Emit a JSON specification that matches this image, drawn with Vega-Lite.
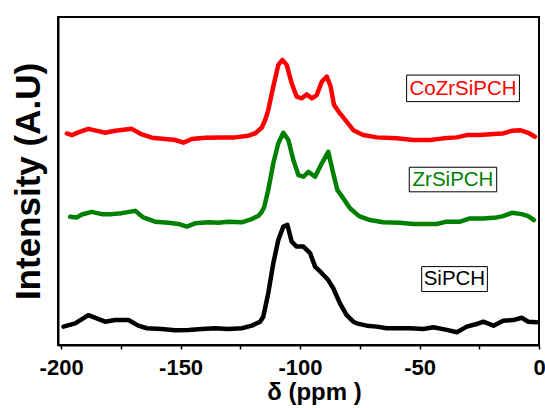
{
  "$schema": "https://vega.github.io/schema/vega-lite/v6.json",
  "autosize": {"type": "none"},
  "width": 481,
  "height": 328,
  "padding": {"left": 58, "top": 17, "right": 6, "bottom": 63},
  "background": "white",
  "config": {
    "font": "Liberation Sans",
    "view": {"stroke": "black", "strokeWidth": 2}
  },
  "datasets": {
    "spectra": [
      {"sample": "CoZrSiPCH", "ppm": -197.6, "intensity": 64.5},
      {"sample": "CoZrSiPCH", "ppm": -195.5, "intensity": 64.0},
      {"sample": "CoZrSiPCH", "ppm": -192.8, "intensity": 64.8},
      {"sample": "CoZrSiPCH", "ppm": -188.6, "intensity": 65.9},
      {"sample": "CoZrSiPCH", "ppm": -184.4, "intensity": 65.2},
      {"sample": "CoZrSiPCH", "ppm": -181.6, "intensity": 64.7},
      {"sample": "CoZrSiPCH", "ppm": -177.4, "intensity": 65.3},
      {"sample": "CoZrSiPCH", "ppm": -170.4, "intensity": 65.9},
      {"sample": "CoZrSiPCH", "ppm": -166.2, "intensity": 64.2},
      {"sample": "CoZrSiPCH", "ppm": -162.0, "intensity": 63.2},
      {"sample": "CoZrSiPCH", "ppm": -156.5, "intensity": 62.8},
      {"sample": "CoZrSiPCH", "ppm": -152.3, "intensity": 62.5},
      {"sample": "CoZrSiPCH", "ppm": -148.8, "intensity": 61.7},
      {"sample": "CoZrSiPCH", "ppm": -145.3, "intensity": 62.8},
      {"sample": "CoZrSiPCH", "ppm": -139.7, "intensity": 63.2},
      {"sample": "CoZrSiPCH", "ppm": -132.8, "intensity": 63.3},
      {"sample": "CoZrSiPCH", "ppm": -127.2, "intensity": 63.3},
      {"sample": "CoZrSiPCH", "ppm": -121.6, "intensity": 63.8},
      {"sample": "CoZrSiPCH", "ppm": -118.8, "intensity": 64.5},
      {"sample": "CoZrSiPCH", "ppm": -116.0, "intensity": 66.3},
      {"sample": "CoZrSiPCH", "ppm": -114.6, "intensity": 68.6},
      {"sample": "CoZrSiPCH", "ppm": -113.3, "intensity": 71.6},
      {"sample": "CoZrSiPCH", "ppm": -111.2, "intensity": 78.8},
      {"sample": "CoZrSiPCH", "ppm": -109.1, "intensity": 85.4},
      {"sample": "CoZrSiPCH", "ppm": -107.4, "intensity": 86.9},
      {"sample": "CoZrSiPCH", "ppm": -105.6, "intensity": 85.4},
      {"sample": "CoZrSiPCH", "ppm": -103.5, "intensity": 79.8},
      {"sample": "CoZrSiPCH", "ppm": -101.4, "intensity": 75.7},
      {"sample": "CoZrSiPCH", "ppm": -99.3, "intensity": 75.2},
      {"sample": "CoZrSiPCH", "ppm": -97.2, "intensity": 76.4},
      {"sample": "CoZrSiPCH", "ppm": -95.1, "intensity": 75.2},
      {"sample": "CoZrSiPCH", "ppm": -93.0, "intensity": 76.2},
      {"sample": "CoZrSiPCH", "ppm": -90.9, "intensity": 80.3},
      {"sample": "CoZrSiPCH", "ppm": -88.8, "intensity": 81.8},
      {"sample": "CoZrSiPCH", "ppm": -87.2, "intensity": 78.8},
      {"sample": "CoZrSiPCH", "ppm": -85.8, "intensity": 73.2},
      {"sample": "CoZrSiPCH", "ppm": -83.3, "intensity": 70.6},
      {"sample": "CoZrSiPCH", "ppm": -80.5, "intensity": 68.1},
      {"sample": "CoZrSiPCH", "ppm": -77.7, "intensity": 65.5},
      {"sample": "CoZrSiPCH", "ppm": -74.9, "intensity": 64.5},
      {"sample": "CoZrSiPCH", "ppm": -73.5, "intensity": 64.0},
      {"sample": "CoZrSiPCH", "ppm": -67.9, "intensity": 63.3},
      {"sample": "CoZrSiPCH", "ppm": -59.5, "intensity": 63.0},
      {"sample": "CoZrSiPCH", "ppm": -52.6, "intensity": 62.5},
      {"sample": "CoZrSiPCH", "ppm": -45.6, "intensity": 62.5},
      {"sample": "CoZrSiPCH", "ppm": -40.0, "intensity": 63.0},
      {"sample": "CoZrSiPCH", "ppm": -34.4, "intensity": 63.3},
      {"sample": "CoZrSiPCH", "ppm": -30.2, "intensity": 64.0},
      {"sample": "CoZrSiPCH", "ppm": -24.7, "intensity": 64.0},
      {"sample": "CoZrSiPCH", "ppm": -19.1, "intensity": 64.3},
      {"sample": "CoZrSiPCH", "ppm": -15.0, "intensity": 64.5},
      {"sample": "CoZrSiPCH", "ppm": -11.4, "intensity": 65.3},
      {"sample": "CoZrSiPCH", "ppm": -8.0, "intensity": 65.5},
      {"sample": "CoZrSiPCH", "ppm": -4.5, "intensity": 64.7},
      {"sample": "CoZrSiPCH", "ppm": -1.7, "intensity": 63.5},

      {"sample": "ZrSiPCH", "ppm": -196.2, "intensity": 39.1},
      {"sample": "ZrSiPCH", "ppm": -193.4, "intensity": 38.9},
      {"sample": "ZrSiPCH", "ppm": -191.3, "intensity": 39.8},
      {"sample": "ZrSiPCH", "ppm": -187.2, "intensity": 40.6},
      {"sample": "ZrSiPCH", "ppm": -183.0, "intensity": 39.9},
      {"sample": "ZrSiPCH", "ppm": -178.8, "intensity": 39.9},
      {"sample": "ZrSiPCH", "ppm": -174.6, "intensity": 40.2},
      {"sample": "ZrSiPCH", "ppm": -169.0, "intensity": 40.9},
      {"sample": "ZrSiPCH", "ppm": -165.6, "intensity": 38.9},
      {"sample": "ZrSiPCH", "ppm": -160.7, "intensity": 37.6},
      {"sample": "ZrSiPCH", "ppm": -155.1, "intensity": 37.3},
      {"sample": "ZrSiPCH", "ppm": -150.9, "intensity": 36.9},
      {"sample": "ZrSiPCH", "ppm": -147.4, "intensity": 36.1},
      {"sample": "ZrSiPCH", "ppm": -143.9, "intensity": 37.1},
      {"sample": "ZrSiPCH", "ppm": -138.4, "intensity": 37.4},
      {"sample": "ZrSiPCH", "ppm": -134.2, "intensity": 37.3},
      {"sample": "ZrSiPCH", "ppm": -130.0, "intensity": 37.6},
      {"sample": "ZrSiPCH", "ppm": -124.4, "intensity": 37.4},
      {"sample": "ZrSiPCH", "ppm": -120.2, "intensity": 38.4},
      {"sample": "ZrSiPCH", "ppm": -117.4, "intensity": 39.4},
      {"sample": "ZrSiPCH", "ppm": -116.0, "intensity": 40.6},
      {"sample": "ZrSiPCH", "ppm": -115.0, "intensity": 42.1},
      {"sample": "ZrSiPCH", "ppm": -113.3, "intensity": 47.3},
      {"sample": "ZrSiPCH", "ppm": -111.2, "intensity": 55.4},
      {"sample": "ZrSiPCH", "ppm": -109.1, "intensity": 61.5},
      {"sample": "ZrSiPCH", "ppm": -107.0, "intensity": 64.7},
      {"sample": "ZrSiPCH", "ppm": -104.9, "intensity": 62.5},
      {"sample": "ZrSiPCH", "ppm": -102.8, "intensity": 56.4},
      {"sample": "ZrSiPCH", "ppm": -100.7, "intensity": 51.8},
      {"sample": "ZrSiPCH", "ppm": -98.6, "intensity": 51.3},
      {"sample": "ZrSiPCH", "ppm": -96.5, "intensity": 52.8},
      {"sample": "ZrSiPCH", "ppm": -93.7, "intensity": 51.3},
      {"sample": "ZrSiPCH", "ppm": -90.9, "intensity": 55.4},
      {"sample": "ZrSiPCH", "ppm": -88.2, "intensity": 58.9},
      {"sample": "ZrSiPCH", "ppm": -86.1, "intensity": 52.3},
      {"sample": "ZrSiPCH", "ppm": -84.4, "intensity": 47.3},
      {"sample": "ZrSiPCH", "ppm": -81.9, "intensity": 44.7},
      {"sample": "ZrSiPCH", "ppm": -79.1, "intensity": 41.7},
      {"sample": "ZrSiPCH", "ppm": -75.3, "intensity": 39.3},
      {"sample": "ZrSiPCH", "ppm": -70.7, "intensity": 38.1},
      {"sample": "ZrSiPCH", "ppm": -65.2, "intensity": 37.4},
      {"sample": "ZrSiPCH", "ppm": -58.2, "intensity": 37.3},
      {"sample": "ZrSiPCH", "ppm": -52.6, "intensity": 36.9},
      {"sample": "ZrSiPCH", "ppm": -47.0, "intensity": 36.9},
      {"sample": "ZrSiPCH", "ppm": -42.8, "intensity": 36.9},
      {"sample": "ZrSiPCH", "ppm": -38.6, "intensity": 37.6},
      {"sample": "ZrSiPCH", "ppm": -33.0, "intensity": 37.6},
      {"sample": "ZrSiPCH", "ppm": -28.9, "intensity": 38.6},
      {"sample": "ZrSiPCH", "ppm": -23.3, "intensity": 38.6},
      {"sample": "ZrSiPCH", "ppm": -17.7, "intensity": 38.9},
      {"sample": "ZrSiPCH", "ppm": -15.0, "intensity": 39.3},
      {"sample": "ZrSiPCH", "ppm": -11.4, "intensity": 40.3},
      {"sample": "ZrSiPCH", "ppm": -7.2, "intensity": 39.9},
      {"sample": "ZrSiPCH", "ppm": -4.5, "intensity": 39.3},
      {"sample": "ZrSiPCH", "ppm": -2.1, "intensity": 38.1},

      {"sample": "SiPCH", "ppm": -199.0, "intensity": 5.6},
      {"sample": "SiPCH", "ppm": -194.1, "intensity": 6.6},
      {"sample": "SiPCH", "ppm": -188.6, "intensity": 9.1},
      {"sample": "SiPCH", "ppm": -185.1, "intensity": 8.1},
      {"sample": "SiPCH", "ppm": -181.6, "intensity": 7.1},
      {"sample": "SiPCH", "ppm": -177.4, "intensity": 7.6},
      {"sample": "SiPCH", "ppm": -171.8, "intensity": 7.6},
      {"sample": "SiPCH", "ppm": -167.7, "intensity": 5.9},
      {"sample": "SiPCH", "ppm": -164.1, "intensity": 5.1},
      {"sample": "SiPCH", "ppm": -157.9, "intensity": 4.9},
      {"sample": "SiPCH", "ppm": -152.3, "intensity": 4.5},
      {"sample": "SiPCH", "ppm": -146.7, "intensity": 4.6},
      {"sample": "SiPCH", "ppm": -141.1, "intensity": 4.9},
      {"sample": "SiPCH", "ppm": -135.6, "intensity": 5.1},
      {"sample": "SiPCH", "ppm": -130.0, "intensity": 4.9},
      {"sample": "SiPCH", "ppm": -124.4, "intensity": 5.1},
      {"sample": "SiPCH", "ppm": -120.2, "intensity": 5.9},
      {"sample": "SiPCH", "ppm": -116.7, "intensity": 7.1},
      {"sample": "SiPCH", "ppm": -115.4, "intensity": 8.6},
      {"sample": "SiPCH", "ppm": -113.3, "intensity": 15.8},
      {"sample": "SiPCH", "ppm": -111.2, "intensity": 24.9},
      {"sample": "SiPCH", "ppm": -109.1, "intensity": 32.0},
      {"sample": "SiPCH", "ppm": -107.0, "intensity": 36.1},
      {"sample": "SiPCH", "ppm": -105.3, "intensity": 36.6},
      {"sample": "SiPCH", "ppm": -103.5, "intensity": 31.5},
      {"sample": "SiPCH", "ppm": -101.4, "intensity": 30.0},
      {"sample": "SiPCH", "ppm": -98.6, "intensity": 30.0},
      {"sample": "SiPCH", "ppm": -95.8, "intensity": 28.0},
      {"sample": "SiPCH", "ppm": -93.7, "intensity": 23.9},
      {"sample": "SiPCH", "ppm": -90.9, "intensity": 21.9},
      {"sample": "SiPCH", "ppm": -88.2, "intensity": 19.8},
      {"sample": "SiPCH", "ppm": -86.1, "intensity": 17.3},
      {"sample": "SiPCH", "ppm": -83.3, "intensity": 12.7},
      {"sample": "SiPCH", "ppm": -80.5, "intensity": 9.1},
      {"sample": "SiPCH", "ppm": -77.7, "intensity": 7.1},
      {"sample": "SiPCH", "ppm": -76.3, "intensity": 6.6},
      {"sample": "SiPCH", "ppm": -72.1, "intensity": 5.9},
      {"sample": "SiPCH", "ppm": -67.9, "intensity": 5.6},
      {"sample": "SiPCH", "ppm": -63.7, "intensity": 5.1},
      {"sample": "SiPCH", "ppm": -58.2, "intensity": 5.1},
      {"sample": "SiPCH", "ppm": -54.0, "intensity": 5.1},
      {"sample": "SiPCH", "ppm": -48.4, "intensity": 4.9},
      {"sample": "SiPCH", "ppm": -44.2, "intensity": 5.4},
      {"sample": "SiPCH", "ppm": -38.6, "intensity": 4.6},
      {"sample": "SiPCH", "ppm": -34.4, "intensity": 3.9},
      {"sample": "SiPCH", "ppm": -30.2, "intensity": 5.6},
      {"sample": "SiPCH", "ppm": -26.1, "intensity": 6.4},
      {"sample": "SiPCH", "ppm": -23.3, "intensity": 7.1},
      {"sample": "SiPCH", "ppm": -19.1, "intensity": 5.9},
      {"sample": "SiPCH", "ppm": -15.0, "intensity": 7.4},
      {"sample": "SiPCH", "ppm": -10.8, "intensity": 7.6},
      {"sample": "SiPCH", "ppm": -7.2, "intensity": 8.3},
      {"sample": "SiPCH", "ppm": -4.5, "intensity": 7.1},
      {"sample": "SiPCH", "ppm": -1.0, "intensity": 6.9}
    ],
    "labels": [
      {"sample": "CoZrSiPCH", "ppm": -31.8, "intensity": 78.2, "ppm_lo": -55.4, "ppm_hi": -8.2, "int_lo": 74.2, "int_hi": 82.3},
      {"sample": "ZrSiPCH", "ppm": -36.0, "intensity": 50.4, "ppm_lo": -54.3, "ppm_hi": -17.7, "int_lo": 46.7, "int_hi": 54.2},
      {"sample": "SiPCH", "ppm": -35.4, "intensity": 20.1, "ppm_lo": -49.1, "ppm_hi": -21.6, "int_lo": 16.3, "int_hi": 23.9}
    ]
  },
  "layer": [
    {
      "data": {"name": "spectra"},
      "mark": {"type": "line", "strokeWidth": 4.5, "strokeJoin": "round", "strokeCap": "round", "interpolate": "linear", "clip": true},
      "encoding": {
        "x": {
          "field": "ppm", "type": "quantitative",
          "scale": {"domain": [-201.3, 0], "nice": false, "zero": false},
          "axis": {
            "values": [-200, -175, -150, -125, -100, -75, -50, -25, 0],
            "labelExpr": "datum.value % 50 === 0 ? '' + datum.value : ''",
            "grid": false,
            "labelFont": "Liberation Sans", "labelFontSize": 22, "labelFontWeight": "bold", "labelColor": "black",
            "labelPadding": 8, "labelFlush": false, "labelOverlap": false,
            "tickColor": "black", "tickSize": 4, "tickWidth": 1.5,
            "domainColor": "black", "domainWidth": 2,
            "title": "δ (ppm )", "titleFont": "Liberation Sans", "titleFontSize": 24, "titleFontWeight": "bold", "titleColor": "black",
            "titlePadding": 2, "titleX": 256
          }
        },
        "y": {
          "field": "intensity", "type": "quantitative",
          "scale": {"domain": [0, 100], "nice": false, "zero": false},
          "axis": {
            "labels": false, "ticks": false, "grid": false,
            "domainColor": "black", "domainWidth": 2,
            "title": "Intensity (A.U)", "titleFont": "Liberation Sans", "titleFontSize": 35, "titleFontWeight": "bold", "titleColor": "black",
            "titlePadding": 12
          }
        },
        "color": {
          "field": "sample", "type": "nominal",
          "scale": {"domain": ["CoZrSiPCH", "ZrSiPCH", "SiPCH"], "range": ["#ff0000", "#008000", "#000000"]},
          "legend": null
        },
        "detail": {"field": "sample"}
      }
    },
    {
      "data": {"name": "labels"},
      "mark": {"type": "rect", "filled": false, "stroke": "black", "strokeWidth": 1},
      "encoding": {
        "x": {"field": "ppm_lo", "type": "quantitative"},
        "x2": {"field": "ppm_hi"},
        "y": {"field": "int_lo", "type": "quantitative"},
        "y2": {"field": "int_hi"}
      }
    },
    {
      "data": {"name": "labels"},
      "mark": {"type": "text", "font": "Liberation Sans", "fontSize": 20.5, "align": "center", "baseline": "middle"},
      "encoding": {
        "x": {"field": "ppm", "type": "quantitative"},
        "y": {"field": "intensity", "type": "quantitative"},
        "text": {"field": "sample"},
        "color": {"field": "sample", "type": "nominal", "legend": null}
      }
    }
  ]
}
